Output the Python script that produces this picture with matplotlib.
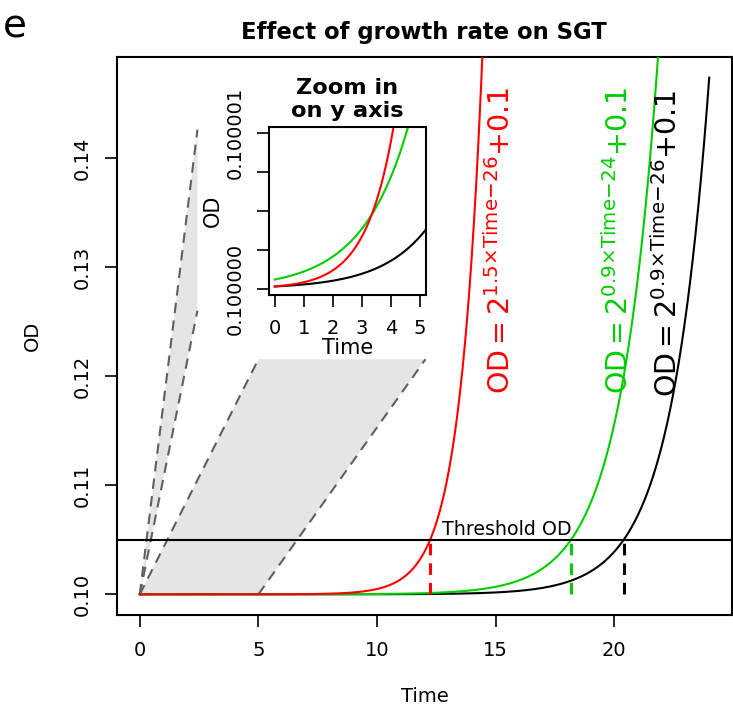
import numpy as np
import matplotlib
matplotlib.use("Agg")
import matplotlib.pyplot as plt
from matplotlib.patches import Polygon

# growth curves: OD = 2^(rate * Time - shift) + 0.1
NAMES = ["black", "green", "red"]
RATES = [0.9, 0.9, 1.5]
SHIFTS = [26, 24, 26]
COLORS = ["#000000", "#00CD00", "#FF0000"]
BASE_OD = 0.1
THRESHOLD_OD = 0.105
T_MAX = 24

# zoom window shown in the inset
ZOOM_T = (0, 5)
ZOOM_OD = (0.1, 0.100001)
# connector shapes tying the zoom window to the inset
WIDE_TOP_T = [5.0, 12.04]
WIDE_TOP_OD = 0.12155
NARROW_T = 2.43
NARROW_OD = [0.1426, 0.1260]

XTICKS = [0, 5, 10, 15, 20]
YTICKS = [0.10, 0.11, 0.12, 0.13, 0.14]
INSET_XTICKS = [0, 1, 2, 3, 4, 5]

W, H = 733, 707
FS = 14
fig = plt.figure(figsize=(W / 100, H / 100), dpi=100)
ax = fig.add_axes([117 / W, 1 - 615 / H, 615 / W, 558 / H])

t = np.linspace(0, T_MAX, 2000)
curves = [2 ** (r * t - s) + BASE_OD for r, s in zip(RATES, SHIFTS)]

# gray connectors (under everything)
wide = Polygon([(ZOOM_T[0], BASE_OD), (ZOOM_T[1], BASE_OD),
                (WIDE_TOP_T[1], WIDE_TOP_OD), (WIDE_TOP_T[0], WIDE_TOP_OD)],
               closed=True, facecolor="#e5e5e5", edgecolor="none", zorder=1)
ax.add_patch(wide)
narrow = Polygon([(ZOOM_T[0], BASE_OD), (NARROW_T, NARROW_OD[0]), (NARROW_T, NARROW_OD[1])],
                 closed=True, facecolor="#e5e5e5", edgecolor="none", zorder=1)
ax.add_patch(narrow)
dash_kw = dict(color="#5f5f5f", lw=1.5, dashes=(5, 3.5), zorder=2)
ax.plot([ZOOM_T[0], WIDE_TOP_T[0]], [BASE_OD, WIDE_TOP_OD], **dash_kw)
ax.plot([ZOOM_T[1], WIDE_TOP_T[1]], [BASE_OD, WIDE_TOP_OD], **dash_kw)
for od in NARROW_OD:
    ax.plot([ZOOM_T[0], NARROW_T], [BASE_OD, od], **dash_kw)

for y, c in zip(curves, COLORS):
    ax.plot(t, y, color=c, lw=1.5, zorder=3)

# threshold and time-to-threshold
ax.axhline(THRESHOLD_OD, color="black", lw=1.5, zorder=3)
ax.text(15.45, THRESHOLD_OD + 0.00045, "Threshold OD", ha="center", va="baseline", fontsize=13.7)
for r, s, c in zip(RATES, SHIFTS, COLORS):
    t_hit = (np.log2(THRESHOLD_OD - BASE_OD) + s) / r
    ax.plot([t_hit, t_hit], [BASE_OD, THRESHOLD_OD], color=c, lw=2.2, dashes=(3.8, 2.6), zorder=4)

# formula labels
label_pos = {"red": (15.2, 0.1324), "green": (20.17, 0.1324), "black": (22.27, 0.1322)}
for name, r, s, c in zip(NAMES, RATES, SHIFTS, COLORS):
    txt = r"$\mathrm{OD} = 2^{%g{\times}\mathrm{Time}{-}%d}{+}0.1$" % (r, s)
    x, y = label_pos[name]
    ax.text(x, y, txt, color=c, rotation=90, ha="center", va="center", fontsize=20.5)

ymax = curves[0].max()
rng = ymax - BASE_OD
ax.set_xlim(-0.04 * T_MAX, T_MAX * 1.04)
ax.set_ylim(BASE_OD - 0.04 * rng, ymax + 0.04 * rng)
ax.set_xticks(XTICKS)
ax.set_xticklabels([str(v) for v in XTICKS])
ax.set_yticks(YTICKS)
ax.set_yticklabels(["%.2f" % v for v in YTICKS], rotation=90, va="center")
ax.tick_params(length=8.5, width=1.2, labelsize=FS, pad=10)
for sp in ax.spines.values():
    sp.set_linewidth(1.5)
ax.set_xlabel("Time", fontsize=FS)
ax.set_ylabel("OD", fontsize=FS)
ax.xaxis.set_label_coords(0.5, (615 - 696) / 558)
ax.xaxis.label.set_va("center")
ax.yaxis.set_label_coords((32 - 117) / 615, 0.5)
ax.yaxis.label.set_va("center")

fig.text(423.5 / W, 1 - 32 / H, "Effect of growth rate on SGT", ha="center", va="center",
         fontsize=16.4, fontweight="bold")
fig.text(3 / W, 1 - 26 / H, "e", ha="left", va="center", fontsize=28)

# inset: zoom on the y axis
axi = fig.add_axes([269 / W, 1 - 295 / H, 157 / W, 168 / H])
for y, c in zip(curves, COLORS):
    axi.plot(t, y, color=c, lw=1.5)
zspan = ZOOM_OD[1] - ZOOM_OD[0]
axi.set_xlim(ZOOM_T[0] - 0.04 * (ZOOM_T[1] - ZOOM_T[0]), ZOOM_T[1] + 0.04 * (ZOOM_T[1] - ZOOM_T[0]))
axi.set_ylim(ZOOM_OD[0] - 0.04 * zspan, ZOOM_OD[1] + 0.04 * zspan)
axi.set_xticks(INSET_XTICKS)
axi.set_xticklabels([str(v) for v in INSET_XTICKS])
iy = np.linspace(ZOOM_OD[0], ZOOM_OD[1], 5)
axi.set_yticks(iy)
axi.set_yticklabels(["%.6f" % iy[0], "", "", "", "%.6f" % iy[-1]], rotation=90, va="center")
axi.tick_params(length=8.5, width=1.2, labelsize=FS, pad=9)
for sp in axi.spines.values():
    sp.set_linewidth(1.5)
axi.set_xlabel("Time", fontsize=15)
axi.set_ylabel("OD", fontsize=15)
axi.xaxis.set_label_coords(0.5, (295 - 348) / 168)
axi.xaxis.label.set_va("center")
axi.yaxis.set_label_coords((213 - 269) / 157, 0.5)
axi.yaxis.label.set_va("center")
axi.set_title("Zoom in\non y axis", fontsize=16.2, fontweight="bold", linespacing=1.2, pad=7)

fig.savefig("out.png", dpi=100)
